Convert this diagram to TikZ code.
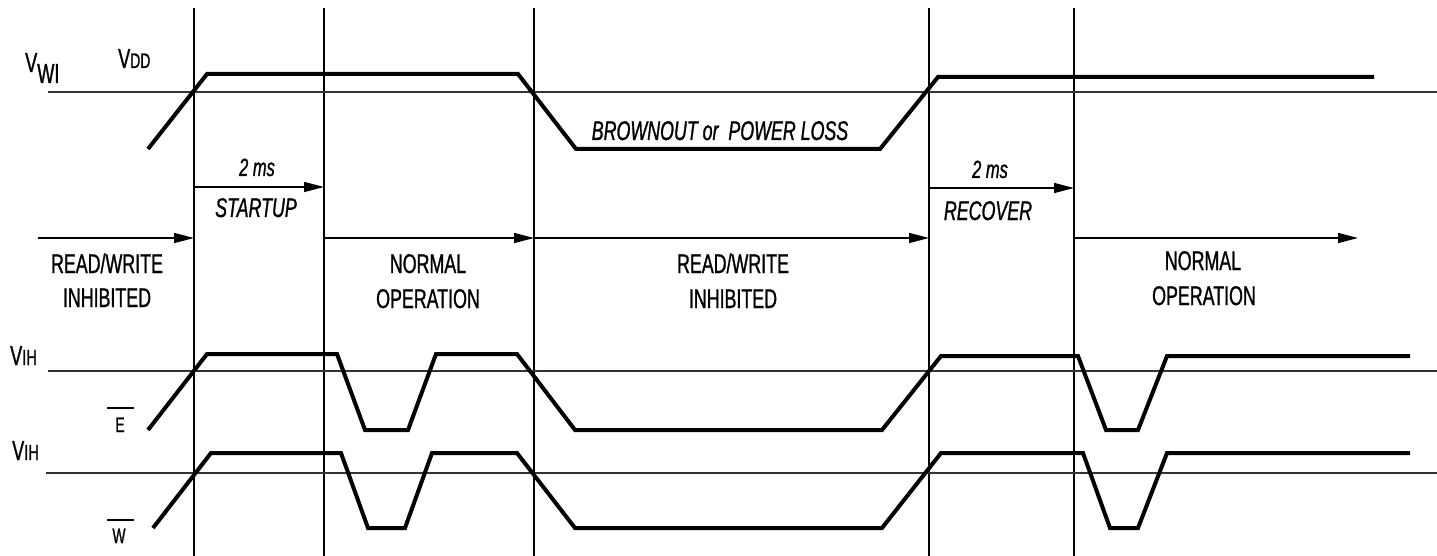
\documentclass[tikz,border=0pt]{standalone}
\usepackage{fontspec}
\setmainfont{Liberation Sans}[FakeStretch=0.66,FakeBold=1]
\usetikzlibrary{arrows.meta}
\begin{document}
\begin{tikzpicture}[x=1pt,y=-1pt]
\tikzset{
  vline/.style={line width=1.6pt, black},
  refline/.style={line width=1.3pt, black!80},
  sig/.style={line width=4pt, black},
  tarrow/.style={line width=1.5pt, black, -{Triangle[length=20pt,width=10pt]}},
  lbl/.style={font=\fontsize{27}{30}\selectfont, inner sep=0pt, anchor=base},
  ilbl/.style={font=\fontsize{27}{30}\selectfont\itshape, inner sep=0pt, anchor=base},
  mslbl/.style={font=\fontsize{25}{28}\selectfont\itshape, inner sep=0pt, anchor=base},
  vlbl/.style={font=\fontsize{27.5}{30}\selectfont, inner sep=0pt, anchor=base west},
  siglbl/.style={font=\fontsize{21}{24}\selectfont, inner sep=0pt, anchor=base},
}
\useasboundingbox (0,0) rectangle (1437,556);

% vertical time markers
\foreach \n/\x in {t1/194, t2/324, t3/534, t4/929, t5/1074}{
  \coordinate (\n top) at (\x,8);
  \coordinate (\n bot) at (\x,556);
  \draw[vline] (\n top) -- (\n bot);
}

% reference levels
\coordinate (vwiL) at (48,92);   \coordinate (vwiR) at (1437,92);
\coordinate (vihEL) at (48,371); \coordinate (vihER) at (1437,371);
\coordinate (vihWL) at (46,473); \coordinate (vihWR) at (1437,473);
\draw[refline] (vwiL) -- (vwiR);
\draw[refline] (vihEL) -- (vihER);
\draw[refline] (vihWL) -- (vihWR);

% level labels
\node[vlbl] (vwi) at (25,72) {V\raisebox{-11pt}{WI}};
\node[vlbl] (vdd) at (118,68) {V{\fontsize{21}{22}\selectfont DD}};
\node[vlbl] (vihE) at (10,365) {V{\fontsize{22}{22}\selectfont IH}};
\node[vlbl] (vihW) at (12,460) {V{\fontsize{22}{22}\selectfont IH}};

% signal labels
\node[siglbl] (elab) at (120,432) {E};
\node[siglbl] (wlab) at (119,543) {W};
\draw[line width=1.3pt] ([xshift=-13pt]elab.north |- 0,408) -- ++(27,0);
\draw[line width=1.3pt] ([xshift=-12pt]wlab.north |- 0,520) -- ++(27,0);

% VDD waveform
\draw[sig] (148,149) -- (207,74) -- (518,74) -- (576,149) -- (880,149) -- (938,77) -- (1374,77);
% E waveform
\draw[sig] (148,430) -- (207,354) -- (337,354) -- (365,430) -- (408,430) -- (436,354) -- (517,354)
  -- (575,430) -- (882,430) -- (941,356) -- (1078,356) -- (1106,430) -- (1138,430) -- (1167,356) -- (1410,356);
% W waveform
\draw[sig] (153,528) -- (211,453) -- (341,453) -- (368,528) -- (405,528) -- (432,453) -- (517,453)
  -- (575,528) -- (882,528) -- (941,453) -- (1083,453) -- (1110,528) -- (1138,528) -- (1167,453) -- (1410,453);

\node[ilbl] (brown) at (720,140) {BROWNOUT or\ \ POWER LOSS};

% timing arrows
\coordinate (s1) at (194,187); \coordinate (s2) at (324,187);
\coordinate (r1) at (929,188); \coordinate (r2) at (1074,188);
\draw[tarrow] (s1) -- (s2);
\draw[tarrow] (r1) -- (r2);
\node[mslbl] (ms1) at (257,176) {2 ms};
\node[ilbl] (startup) at (256,217) {STARTUP};
\node[mslbl] (ms2) at (990,178) {2 ms};
\node[ilbl] (recover) at (988,220) {RECOVER};

% phase arrows
\coordinate (p0) at (38,238);
\coordinate (p1) at (194,238);
\coordinate (p2) at (324,238);
\coordinate (p3) at (534,238);
\coordinate (p4) at (929,238);
\coordinate (p5) at (1074,238);
\coordinate (p6) at (1358,238);
\draw[tarrow] (p0) -- (p1);
\draw[tarrow] (p2) -- (p3);
\draw[tarrow] (p3) -- (p4);
\draw[tarrow] (p5) -- (p6);

% phase labels
\node[lbl] (rw1a) at (107,273) {READ/WRITE};
\node[lbl] (rw1b) at (107,307) {INHIBITED};
\node[lbl] (no1a) at (428,273) {NORMAL};
\node[lbl] (no1b) at (428,308) {OPERATION};
\node[lbl] (rw2a) at (733,273) {READ/WRITE};
\node[lbl] (rw2b) at (733,308) {INHIBITED};
\node[lbl] (no2a) at (1203,270) {NORMAL};
\node[lbl] (no2b) at (1204,305) {OPERATION};
\end{tikzpicture}
\end{document}
